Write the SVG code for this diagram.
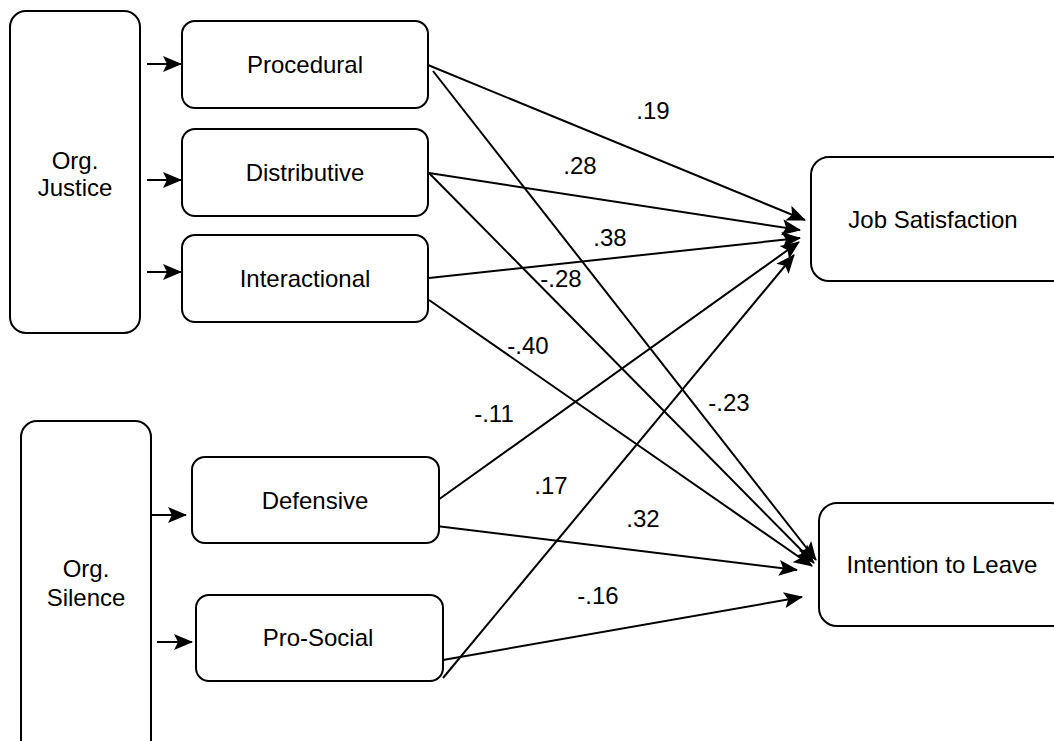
<svg xmlns="http://www.w3.org/2000/svg" width="1054" height="741" viewBox="0 0 1054 741">
<style>
.box{fill:#fff;stroke:#000;stroke-width:2}
.t{font-family:"Liberation Sans",Arial,sans-serif;font-size:24px;fill:#000;text-anchor:middle}
.lb{font-family:"Liberation Sans",Arial,sans-serif;font-size:24px;fill:#000;text-anchor:middle}
.c{stroke:#000;stroke-width:2;fill:none;marker-end:url(#ah)}
</style>
<defs>
<marker id="ah" markerUnits="userSpaceOnUse" markerWidth="24" markerHeight="20" refX="18" refY="8" orient="auto" overflow="visible">
<path d="M0,0 L19,8 L0,16 L4,8 Z" fill="#000"/>
</marker>
</defs>
<rect width="1054" height="741" fill="#fff"/>
<g id="connectors">
<line class="c" x1="147" y1="64" x2="181" y2="64"/>
<line class="c" x1="147" y1="180" x2="181" y2="180"/>
<line class="c" x1="147" y1="272" x2="181" y2="272"/>
<line class="c" x1="151" y1="515" x2="186" y2="515"/>
<line class="c" x1="157" y1="642" x2="192" y2="642"/>
<line class="c" x1="428" y1="65" x2="805" y2="220"/>
<line class="c" x1="433" y1="71" x2="816" y2="560"/>
<line class="c" x1="429" y1="173" x2="800" y2="230"/>
<line class="c" x1="429" y1="173" x2="814" y2="563"/>
<line class="c" x1="429" y1="278" x2="800" y2="238"/>
<line class="c" x1="429" y1="300" x2="812" y2="566"/>
<line class="c" x1="438" y1="500" x2="799" y2="242"/>
<line class="c" x1="443" y1="678" x2="794" y2="255"/>
<line class="c" x1="428" y1="525" x2="797" y2="570"/>
<line class="c" x1="443" y1="660" x2="802" y2="597"/>
<text class="lb" x="653" y="119">.19</text>
<text class="lb" x="580" y="174">.28</text>
<text class="lb" x="610" y="246">.38</text>
<text class="lb" x="561" y="287">-.28</text>
<text class="lb" x="528" y="354">-.40</text>
<text class="lb" x="729" y="411">-.23</text>
<text class="lb" x="494" y="422">-.11</text>
<text class="lb" x="551" y="494">.17</text>
<text class="lb" x="643" y="527">.32</text>
<text class="lb" x="598" y="604">-.16</text>
</g>
<g id="org-justice">
<rect class="box" x="10" y="11" width="130" height="322" rx="16"/>
<text class="t" x="75" y="169">Org.</text>
<text class="t" x="75" y="196">Justice</text>
</g>
<g id="procedural">
<rect class="box" x="182" y="21" width="246" height="87" rx="13"/>
<text class="t" x="305" y="73">Procedural</text>
</g>
<g id="distributive">
<rect class="box" x="182" y="129" width="246" height="87" rx="13"/>
<text class="t" x="305" y="181">Distributive</text>
</g>
<g id="interactional">
<rect class="box" x="182" y="235" width="246" height="87" rx="13"/>
<text class="t" x="305" y="287">Interactional</text>
</g>
<g id="org-silence">
<rect class="box" x="21" y="421" width="130" height="340" rx="16"/>
<text class="t" x="86" y="577">Org.</text>
<text class="t" x="86" y="606">Silence</text>
</g>
<g id="defensive">
<rect class="box" x="192" y="457" width="247" height="86" rx="13"/>
<text class="t" x="315" y="509">Defensive</text>
</g>
<g id="pro-social">
<rect class="box" x="196" y="595" width="247" height="86" rx="13"/>
<text class="t" x="318" y="646">Pro-Social</text>
</g>
<g id="job-satisfaction">
<rect class="box" x="811" y="157" width="260" height="124" rx="18"/>
<text class="t" x="933" y="228">Job Satisfaction</text>
</g>
<g id="intention-to-leave">
<rect class="box" x="819" y="503" width="250" height="123" rx="18"/>
<text class="t" x="942" y="573">Intention to Leave</text>
</g>
</svg>
